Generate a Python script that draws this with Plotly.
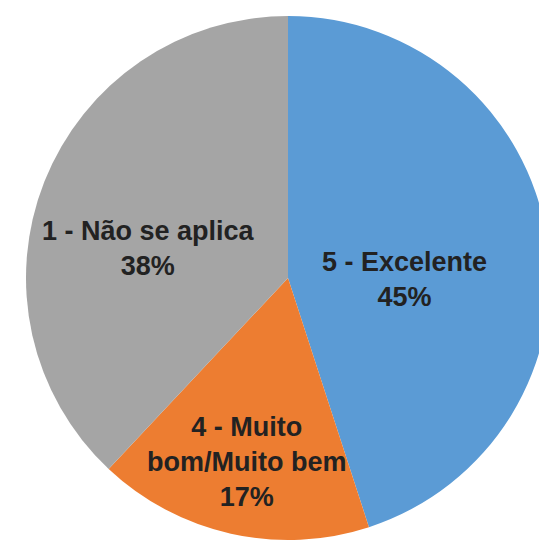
import math
import plotly.graph_objects as go

labels = ["5 - Excelente", "4 - Muito<br>bom/Muito bem", "1 - Não se aplica"]
values = [45, 17, 38]
colors = ["#5B9BD5", "#ED7D31", "#A5A5A5"]

W, H = 547, 551
# pie placement (pixels) — style
CX, CY, R = 287, 277, 262
label_frac = [0.45, 0.72, 0.574]
label_dy = [20, 0, 26]

# page body margin offset correction
dx0, dy0 = -7, -7
fig = go.Figure(go.Pie(
    labels=labels,
    values=values,
    sort=False,
    direction="clockwise",
    rotation=0,
    marker=dict(colors=colors, line=dict(width=0)),
    textinfo="none",
    hoverinfo="label+percent",
    domain=dict(x=[(CX - R + dx0) / W, min(1.0, (CX + R + dx0) / W)],
                y=[1 - (CY + R + dy0) / H, 1 - (CY - R + dy0) / H]),
    showlegend=False,
))

total = sum(values)
cum = 0
for lab, v, f, dy in zip(labels, values, label_frac, label_dy):
    mid = (cum + v / 2) / total * 2 * math.pi
    cum += v
    px = CX + f * R * math.sin(mid) + dx0
    py = CY - f * R * math.cos(mid) + dy + dy0
    fig.add_annotation(
        x=px / W, y=1 - py / H, xref="paper", yref="paper",
        text=f"<b>{lab}<br>{round(v / total * 100)}%</b>",
        showarrow=False, xanchor="center", yanchor="middle", align="center",
        font=dict(family="Liberation Sans, Arial, sans-serif", size=27, color="#222222"),
    )

fig.update_layout(
    width=W, height=H,
    margin=dict(l=0, r=0, t=0, b=0),
    paper_bgcolor="white",
    plot_bgcolor="white",
)

fig.write_html("out.html")
